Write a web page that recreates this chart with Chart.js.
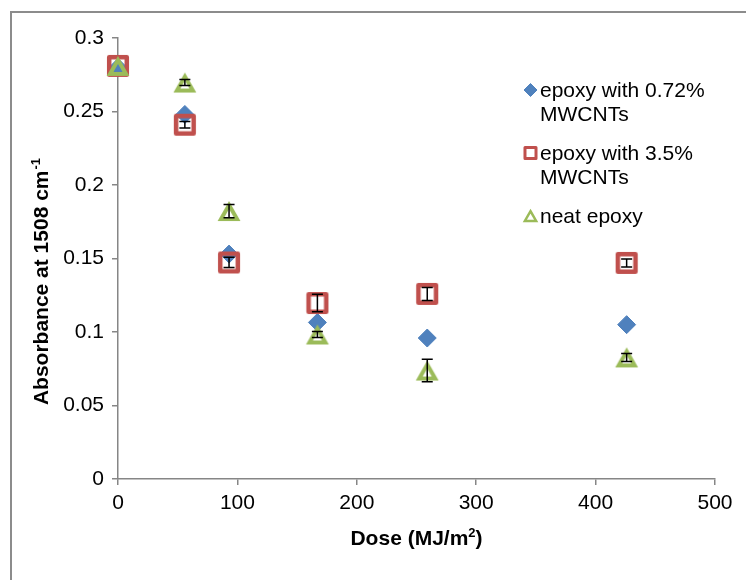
<!DOCTYPE html>
<html>
<head>
<meta charset="utf-8">
<script src="https://cdn.jsdelivr.net/npm/chart.js@4/dist/chart.umd.min.js"></script>
<style>
  html, body { margin: 0; padding: 0; background: #fff; overflow: hidden; }
  #wrap { position: relative; width: 746px; height: 580px; }
  #frame { position: absolute; left: 10px; top: 11px; width: 800px; height: 700px; border: 2px solid #8c8c8c; box-sizing: border-box; }
  #chart { position: absolute; left: 0; top: 0; }
</style>
</head>
<body>
<div id="wrap">
  <div id="frame"></div>
  <canvas id="chart" width="746" height="580"></canvas>
</div>
<script>
// Absorbance at 1508 cm-1 vs dose
const doses = [0, 56, 93, 167, 259, 426];
const lowCnt = [0.280, 0.248, 0.153, 0.1065, 0.0959, 0.105];
const highCnt = [0.281, 0.241, 0.1473, 0.1197, 0.1259, 0.147];
const neat = [0.281, 0.2697, 0.1823, 0.0983, 0.0738, 0.0827];
const lowCntErr = [0, 0, 0, 0, 0, 0];
const highCntErr = [0, 0.0022, 0.0035, 0.006, 0.0044, 0.0027];
const neatErr = [0, 0.002, 0.0045, 0.002, 0.0077, 0.0027];
const seriesNames = [['epoxy with 0.72%', 'MWCNTs'], ['epoxy with 3.5%', 'MWCNTs'], ['neat epoxy']];
const xTicks = [0, 100, 200, 300, 400, 500];
const yTicks = [0, 0.05, 0.1, 0.15, 0.2, 0.25, 0.3];

const FONT = '"Liberation Sans", Arial, sans-serif';
const axisGrey = '#868686';
const blue = '#4F81BD';
const red = '#C0504D';
const green = '#9BBB59';

function toPoints(ys) {
    return doses.map((d, i) => ({ x: d, y: ys[i] }));
}

// outlined markers drawn on small canvases so they sit centred on the value
function squareImage() {
    const c = document.createElement('canvas');
    c.width = 24; c.height = 24;
    const g = c.getContext('2d');
    g.strokeStyle = red;
    g.lineWidth = 4.5;
    g.lineJoin = 'round';
    g.strokeRect(3.2, 3.2, 17.6, 17.6);
    return c;
}

function triangleImage() {
    const c = document.createElement('canvas');
    c.width = 26; c.height = 26;
    const g = c.getContext('2d');
    g.strokeStyle = green;
    g.lineWidth = 4;
    g.lineJoin = 'miter';
    g.beginPath();
    g.moveTo(13, 7);
    g.lineTo(21, 21);
    g.lineTo(5, 21);
    g.closePath();
    g.stroke();
    return c;
}

function drawMarker(ctx, style, x, y, r, color, bw, filled) {
    ctx.save();
    ctx.beginPath();
    if (style === 'rectRot') {
        ctx.moveTo(x - r, y);
        ctx.lineTo(x, y - r);
        ctx.lineTo(x + r, y);
        ctx.lineTo(x, y + r);
    } else if (style === 'rect') {
        const s = Math.SQRT1_2 * r;
        ctx.rect(x - s, y - s, 2 * s, 2 * s);
    } else {
        for (let k = 0; k < 3; k++) {
            const a = k * 2 * Math.PI / 3;
            const px = x + Math.sin(a) * r;
            const py = y + r / 4 - Math.cos(a) * r;
            if (k === 0) ctx.moveTo(px, py); else ctx.lineTo(px, py);
        }
    }
    ctx.closePath();
    if (filled) {
        ctx.fillStyle = color;
        ctx.fill();
    }
    ctx.lineWidth = bw;
    ctx.lineJoin = style === 'rect' ? 'round' : 'miter';
    ctx.strokeStyle = color;
    ctx.stroke();
    ctx.restore();
}

const errorBars = {
    id: 'errorBars',
    afterDatasetsDraw(chart) {
        const ctx = chart.ctx;
        const xs = chart.scales.x;
        const ys = chart.scales.y;
        ctx.save();
        ctx.strokeStyle = '#000';
        ctx.lineWidth = 1.5;
        chart.data.datasets.forEach(ds => {
            ds.data.forEach((p, i) => {
                const e = ds.errors[i];
                if (!e) return;
                const px = xs.getPixelForValue(p.x);
                const top = ys.getPixelForValue(p.y + e);
                const bot = ys.getPixelForValue(p.y - e);
                ctx.beginPath();
                ctx.moveTo(px, top);
                ctx.lineTo(px, bot);
                ctx.moveTo(px - 5.5, top);
                ctx.lineTo(px + 5.5, top);
                ctx.moveTo(px - 5.5, bot);
                ctx.lineTo(px + 5.5, bot);
                ctx.stroke();
            });
        });
        ctx.restore();
    }
};

const decorations = {
    id: 'decorations',
    afterDraw(chart) {
        const ctx = chart.ctx;
        const area = chart.chartArea;
        ctx.save();
        ctx.fillStyle = '#000';
        ctx.textBaseline = 'alphabetic';
        ctx.textAlign = 'left';

        // x axis title
        const partA = 'Dose (MJ/m';
        const partB = ')';
        ctx.font = 'bold 21px ' + FONT;
        const wA = ctx.measureText(partA).width;
        const wB = ctx.measureText(partB).width;
        ctx.font = 'bold 13px ' + FONT;
        const wS = ctx.measureText('2').width;
        const x0 = (area.left + area.right) / 2 - (wA + wS + wB) / 2;
        const bx = 545;
        ctx.font = 'bold 21px ' + FONT;
        ctx.fillText(partA, x0, bx);
        ctx.font = 'bold 13px ' + FONT;
        ctx.fillText('2', x0 + wA, bx - 8);
        ctx.font = 'bold 21px ' + FONT;
        ctx.fillText(partB, x0 + wA + wS, bx);

        // y axis title, rotated
        ctx.save();
        ctx.translate(48, 282);
        ctx.rotate(-Math.PI / 2);
        const yMain = 'Absorbance at 1508 cm';
        const ySup = '-1';
        ctx.font = 'bold 21px ' + FONT;
        const wm = ctx.measureText(yMain).width;
        ctx.font = 'bold 13px ' + FONT;
        const ws = ctx.measureText(ySup).width;
        const start = -(wm + ws) / 2;
        ctx.font = 'bold 21px ' + FONT;
        ctx.fillText(yMain, start, 0);
        ctx.font = 'bold 13px ' + FONT;
        ctx.fillText(ySup, start + wm + 1, -8);
        ctx.restore();

        // legend
        const legendMarkers = [
            { style: 'rectRot', r: 6.5, bw: 1, filled: true, color: blue },
            { style: 'rect', r: 7.8, bw: 3, filled: false, color: red },
            { style: 'triangle', r: 6.5, bw: 2.5, filled: false, color: green }
        ];
        let baseline = 97;
        ctx.font = '21px ' + FONT;
        seriesNames.forEach((lines, i) => {
            const m = legendMarkers[i];
            drawMarker(ctx, m.style, 530.5, baseline - 7, m.r, m.color, m.bw, m.filled);
            ctx.fillStyle = '#000';
            lines.forEach((line, j) => {
                ctx.fillText(line, 540, baseline + j * 24);
            });
            baseline += (lines.length - 1) * 24 + 39;
        });
        ctx.restore();
    }
};

const tickFont = { family: FONT, size: 21 };

new Chart(document.getElementById('chart'), {
    type: 'scatter',
    data: {
        datasets: [
            {
                label: seriesNames[0].join(' '),
                data: toPoints(lowCnt),
                errors: lowCntErr,
                pointStyle: 'rectRot',
                radius: 9,
                backgroundColor: blue,
                borderColor: blue,
                borderWidth: 1,
                clip: false,
                order: 2
            },
            {
                label: seriesNames[1].join(' '),
                data: toPoints(highCnt),
                errors: highCntErr,
                pointStyle: squareImage(),
                radius: 12,
                backgroundColor: red,
                borderColor: red,
                clip: false,
                order: 1
            },
            {
                label: seriesNames[2].join(' '),
                data: toPoints(neat),
                errors: neatErr,
                pointStyle: triangleImage(),
                radius: 12,
                backgroundColor: green,
                borderColor: green,
                clip: false,
                order: 0
            }
        ]
    },
    options: {
        responsive: false,
        animation: false,
        events: [],
        layout: { padding: { left: 0, top: 38, right: 31, bottom: 0 } },
        plugins: {
            legend: { display: false },
            tooltip: { enabled: false }
        },
        scales: {
            x: {
                type: 'linear',
                min: 0,
                max: 500,
                afterBuildTicks: s => { s.ticks = xTicks.map(v => ({ value: v })); },
                afterFit: s => { s.height = 101; },
                ticks: { color: '#000', font: tickFont, padding: 6, maxRotation: 0, callback: v => String(v) },
                grid: { drawOnChartArea: false, color: axisGrey, tickLength: 6, lineWidth: 1.5 },
                border: { color: axisGrey, width: 1.5 }
            },
            y: {
                type: 'linear',
                min: 0,
                max: 0.3,
                afterBuildTicks: s => { s.ticks = yTicks.map(v => ({ value: v })); },
                afterFit: s => { s.width = 118; },
                ticks: { color: '#000', font: tickFont, padding: 8, callback: v => String(v) },
                grid: { drawOnChartArea: false, color: axisGrey, tickLength: 6, lineWidth: 1.5 },
                border: { color: axisGrey, width: 1.5 }
            }
        }
    },
    plugins: [errorBars, decorations]
});
</script>
</body>
</html>
